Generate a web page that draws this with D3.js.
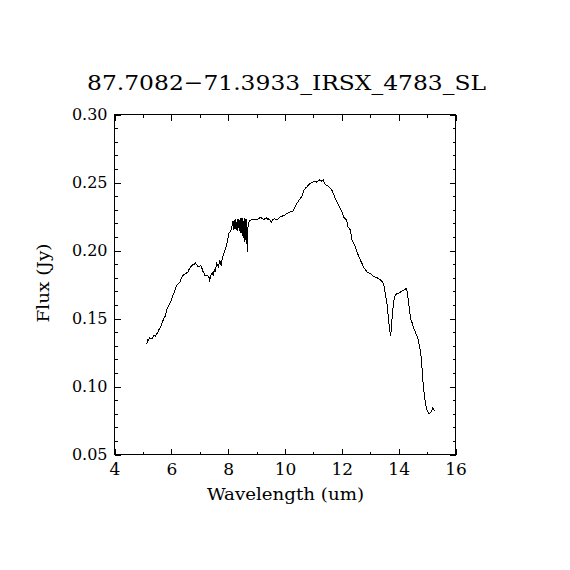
<!DOCTYPE html>
<html>
<head>
<meta charset="utf-8">
<script src="https://cdn.jsdelivr.net/npm/d3@7"></script>
<style>
  html, body { margin: 0; padding: 0; background: #fff; }
  svg { display: block; }
  text { font-family: "DejaVu Serif", "Liberation Serif", serif; fill: #000; }
</style>
</head>
<body>
<svg id="chart" width="570" height="570"></svg>
<script>
const titleText = "87.7082\u221271.3933_IRSX_4783_SL";
const xLabelText = "Wavelength (um)";
const yLabelText = "Flux (Jy)";
const xMajorTicks = [4, 6, 8, 10, 12, 14, 16];
const xMinorTicks = [5, 7, 9, 11, 13, 15];
const yMajorTicks = [0.05, 0.10, 0.15, 0.20, 0.25, 0.30];
const yMinorTicks = [0.06,0.07,0.08,0.09,0.11,0.12,0.13,0.14,0.16,0.17,0.18,0.19,0.21,0.22,0.23,0.24,0.26,0.27,0.28,0.29];
const xDomain = [4, 16];
const yDomain = [0.05, 0.30];

const wavelength = [
5.14,5.16,5.20,5.24,5.28,5.33,5.37,5.41,5.45,5.48,5.52,5.56,5.60,5.64,5.68,5.73,5.79,5.85,5.91,5.96,
6.00,6.05,6.09,6.14,6.18,6.24,6.30,6.34,6.38,6.44,6.50,6.54,6.58,6.62,6.67,6.72,6.77,6.81,6.85,6.90,
6.93,6.97,7.03,7.06,7.10,7.14,7.17,7.22,7.26,7.30,7.33,7.35,7.38,7.41,7.44,7.47,7.50,7.53,7.56,7.59,
7.62,7.65,7.68,7.71,7.74,7.77,7.79,7.83,7.87,7.92,7.97,8.02,8.07,8.11,8.14,
8.17,8.19,8.22,8.24,8.27,8.29,8.32,8.34,8.37,8.39,8.42,8.44,8.47,8.49,8.52,8.54,8.57,8.59,8.62,8.64,8.66,8.67,8.70,8.74,
8.78,8.84,8.92,9.02,9.08,9.14,9.20,9.25,9.31,9.35,9.40,9.43,9.48,9.52,9.57,9.61,9.66,9.72,9.77,9.82,
9.88,9.94,10.00,10.05,10.11,10.17,10.23,10.29,10.33,10.37,10.43,10.49,10.55,10.60,10.66,10.72,10.78,10.84,10.90,10.96,
11.01,11.07,11.13,11.17,11.21,11.25,11.28,11.31,11.34,11.38,11.42,11.48,11.54,11.60,11.66,11.70,11.74,11.80,11.86,11.92,
11.98,12.03,12.07,12.12,12.16,12.19,12.22,12.26,12.30,12.33,12.36,12.41,12.46,12.50,12.54,12.60,12.66,12.72,12.77,12.83,
12.89,12.95,13.01,13.06,13.12,13.18,13.24,13.30,13.36,13.40,13.44,13.48,13.51,13.54,13.57,13.60,13.62,13.66,13.69,13.71,
13.73,13.75,13.77,13.81,13.85,13.92,14.00,14.05,14.09,14.16,14.21,14.24,14.26,14.30,14.33,14.36,14.39,14.42,14.47,14.51,
14.55,14.59,14.64,14.69,14.74,14.79,14.83,14.86,14.91,14.95,14.98,15.02,15.06,15.10,15.14,15.17,15.20,15.23,15.26
];
const flux = [
0.1310,0.1345,0.1340,0.1360,0.1352,0.1350,0.1372,0.1375,0.1370,0.1388,0.1395,0.1417,0.1430,0.1448,0.1470,0.1497,0.1520,0.1570,0.1596,0.1615,
0.1637,0.1665,0.1686,0.1715,0.1743,0.1755,0.1767,0.1790,0.1810,0.1822,0.1829,0.1835,0.1840,0.1860,0.1877,0.1888,0.1897,0.1900,0.1907,0.1895,
0.1885,0.1880,0.1890,0.1885,0.1850,0.1840,0.1816,0.1820,0.1818,0.1812,0.1800,0.1780,0.1800,0.1830,0.1835,0.1816,0.1845,0.1858,0.1848,0.1914,
0.1895,0.1880,0.1905,0.1926,0.1900,0.1890,0.1950,0.1965,0.1990,0.2025,0.2062,0.2123,0.2140,0.2152,0.2184,
0.2215,0.2150,0.2225,0.2160,0.2230,0.2150,0.2232,0.2145,0.2235,0.2140,0.2236,0.2130,0.2238,0.2110,0.2238,0.2090,0.2236,0.2060,0.2235,0.2050,0.2232,0.1987,0.2180,0.2215,
0.2222,0.2226,0.2226,0.2226,0.2235,0.2245,0.2235,0.2226,0.2238,0.2240,0.2228,0.2233,0.2220,0.2208,0.2225,0.2233,0.2230,0.2226,0.2235,0.2245,
0.2250,0.2257,0.2262,0.2270,0.2276,0.2282,0.2286,0.2290,0.2310,0.2331,0.2350,0.2368,0.2385,0.2404,0.2441,0.2458,0.2470,0.2485,0.2495,0.2502,
0.2507,0.2505,0.2503,0.2512,0.2520,0.2512,0.2510,0.2515,0.2520,0.2500,0.2486,0.2478,0.2470,0.2456,0.2441,0.2420,0.2397,0.2370,0.2343,0.2318,
0.2294,0.2270,0.2245,0.2235,0.2226,0.2200,0.2172,0.2162,0.2152,0.2113,0.2074,0.2055,0.2037,0.2012,0.1987,0.1955,0.1926,0.1900,0.1877,0.1858,
0.1840,0.1834,0.1829,0.1820,0.1810,0.1805,0.1800,0.1792,0.1784,0.1776,0.1767,0.1740,0.1711,0.1670,0.1632,0.1590,0.1547,0.1460,0.1410,0.1375,
0.1400,0.1436,0.1510,0.1596,0.1657,0.1682,0.1686,0.1693,0.1700,0.1706,0.1711,0.1718,0.1726,0.1694,0.1650,0.1596,0.1545,0.1498,0.1470,0.1441,
0.1420,0.1400,0.1372,0.1344,0.1289,0.1216,0.1118,0.1020,0.0922,0.0870,0.0836,0.0815,0.0804,0.0805,0.0811,0.0828,0.0843,0.0830,0.0818
];

const L = 114.5, R = 455.5, T = 114.5, B = 454.5;
const svg = d3.select("#chart");
const x = d3.scaleLinear().domain(xDomain).range([L, R]);
const y = d3.scaleLinear().domain(yDomain).range([B, T]);

// frame
svg.append("rect").attr("x", L).attr("y", T).attr("width", R - L).attr("height", B - T)
  .attr("fill", "none").attr("stroke", "#000").attr("stroke-width", 1).attr("shape-rendering", "crispEdges");

function styleAxis(g) {
  g.select(".domain").remove();
  g.selectAll(".tick line").attr("stroke", "#000").attr("stroke-width", 1).attr("shape-rendering", "crispEdges");
}

// bottom axis with labels
svg.append("g").attr("transform", `translate(0,${B})`)
  .call(d3.axisBottom(x).tickValues(xMajorTicks).tickSizeInner(-6).tickSizeOuter(0).tickPadding(8).tickFormat(d3.format("d")))
  .call(styleAxis)
  .call(g => g.selectAll(".tick text").attr("font-size", 17).attr("font-family", "DejaVu Serif"));
svg.append("g").attr("transform", `translate(0,${B})`)
  .call(d3.axisBottom(x).tickValues(xMinorTicks).tickSizeInner(-3).tickSizeOuter(0).tickFormat(""))
  .call(styleAxis);
// top axis
svg.append("g").attr("transform", `translate(0,${T})`)
  .call(d3.axisTop(x).tickValues(xMajorTicks).tickSizeInner(-6).tickSizeOuter(0).tickFormat(""))
  .call(styleAxis);
svg.append("g").attr("transform", `translate(0,${T})`)
  .call(d3.axisTop(x).tickValues(xMinorTicks).tickSizeInner(-3).tickSizeOuter(0).tickFormat(""))
  .call(styleAxis);
// left axis with labels
svg.append("g").attr("transform", `translate(${L},0)`)
  .call(d3.axisLeft(y).tickValues(yMajorTicks).tickSizeInner(-6).tickSizeOuter(0).tickPadding(7).tickFormat(d3.format(".2f")))
  .call(styleAxis)
  .call(g => g.selectAll(".tick text").attr("font-size", 16).attr("font-family", "DejaVu Serif"));
svg.append("g").attr("transform", `translate(${L},0)`)
  .call(d3.axisLeft(y).tickValues(yMinorTicks).tickSizeInner(-3).tickSizeOuter(0).tickFormat(""))
  .call(styleAxis);
// right axis
svg.append("g").attr("transform", `translate(${R},0)`)
  .call(d3.axisRight(y).tickValues(yMajorTicks).tickSizeInner(-6).tickSizeOuter(0).tickFormat(""))
  .call(styleAxis);
svg.append("g").attr("transform", `translate(${R},0)`)
  .call(d3.axisRight(y).tickValues(yMinorTicks).tickSizeInner(-3).tickSizeOuter(0).tickFormat(""))
  .call(styleAxis);

// spectrum line
const pts = wavelength.map((w, i) => [w, flux[i]]);
svg.append("path").datum(pts)
  .attr("fill", "none").attr("stroke", "#000").attr("stroke-width", 1)
  .attr("shape-rendering", "crispEdges")
  .attr("d", d3.line().x(d => x(d[0])).y(d => y(d[1])));

// title
svg.append("text").attr("x", 286.5).attr("y", 90).attr("text-anchor", "middle")
  .attr("font-size", 21).attr("textLength", 399).attr("lengthAdjust", "spacingAndGlyphs")
  .text(titleText);
// x label
svg.append("text").attr("x", 285.5).attr("y", 500).attr("text-anchor", "middle")
  .attr("font-size", 17).attr("textLength", 157).attr("lengthAdjust", "spacingAndGlyphs")
  .text(xLabelText);
// y label
svg.append("text").attr("transform", "translate(49,283) rotate(-90)").attr("text-anchor", "middle")
  .attr("font-size", 17).attr("textLength", 79).attr("lengthAdjust", "spacingAndGlyphs")
  .text(yLabelText);
</script>
</body>
</html>
